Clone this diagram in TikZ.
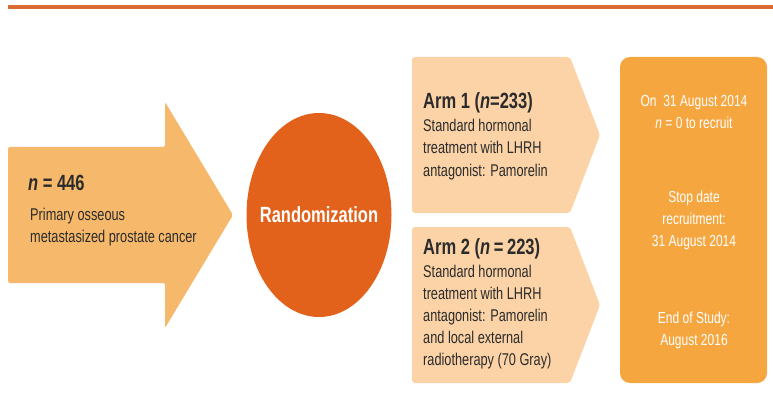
\documentclass[tikz,border=0pt]{standalone}
\usepackage{fontspec}
\setmainfont[FakeStretch=0.75]{Liberation Sans}
\usetikzlibrary{positioning,shapes.geometric}

\definecolor{peach}{HTML}{F6B96B}
\definecolor{pale}{HTML}{FBD3A6}
\definecolor{rust}{HTML}{E2621C}
\definecolor{amber}{HTML}{F5A63F}
\definecolor{ink}{HTML}{2B2B2B}
\definecolor{rule}{HTML}{DC6A33}

\tikzset{
  headline/.style={font=\bfseries\fontsize{22}{26}\selectfont, text=ink, anchor=base west, inner sep=0pt},
  bodytext/.style={font=\fontsize{17}{22}\selectfont, text=ink, align=left, anchor=base west, inner sep=0pt},
  datetext/.style={font=\fontsize{16}{22}\selectfont, text=white, align=center, anchor=base, inner sep=0pt}
}

\begin{document}
\begin{tikzpicture}[x=1pt,y=-1pt]
  \useasboundingbox (0,0) rectangle (773,414);

  % rule on top
  \draw[rule, line width=4pt] (8,7.5) -- (773,7.5);

  % shapes
  \fill[peach, rounded corners=2pt] (8,147) -- (165,147) -- (165,102) -- (233,215)
        -- (165,328) -- (165,283) -- (8,283) -- cycle;
  \fill[pale, rounded corners=3pt] (412,57) -- (570,57) -- (600,135) -- (570,213) -- (412,213) -- cycle;
  \fill[pale, rounded corners=3pt] (412,227) -- (570,227) -- (600,305) -- (570,383) -- (412,383) -- cycle;
  \fill[amber, rounded corners=10pt] (620,57) rectangle (767,383);

  \node[ellipse, fill=rust, minimum width=145pt, minimum height=204pt, inner sep=0pt] (rand) at (319,215) {};
  \node[text=white, font=\bfseries\fontsize{22}{26}\selectfont, inner sep=0pt] (randtxt) at (rand.center) {Randomization};

  % patients (base = last line)
  \node[headline] (total) at (28,190) {\textit{n} = 446};
  \node[bodytext] (cohort) at (30,242) {Primary osseous\\metastasized prostate cancer};

  % arms
  \node[headline] (arm1) at (423,109) {Arm 1 (\textit{n}=233)};
  \node[bodytext] (arm1txt) at (423,176) {Standard hormonal\\treatment with LHRH\\antagonist: Pamorelin};
  \node[headline] (arm2) at (423,254) {Arm 2 (\textit{n}\,=\,223)};
  \node[bodytext] (arm2txt) at (423,365) {Standard hormonal\\treatment with LHRH\\antagonist: Pamorelin\\and local external\\radiotherapy (70 Gray)};

  % dates
  \node[datetext] (recruit) at (694,129) {On\ \ 31 August 2014\\\textit{n} = 0 to recruit};
  \node[datetext] (stop) at (694,246) {Stop date\\recruitment:\\31 August 2014};
  \node[datetext] (end) at (694,345) {End of Study:\\August 2016};
\end{tikzpicture}
\end{document}
